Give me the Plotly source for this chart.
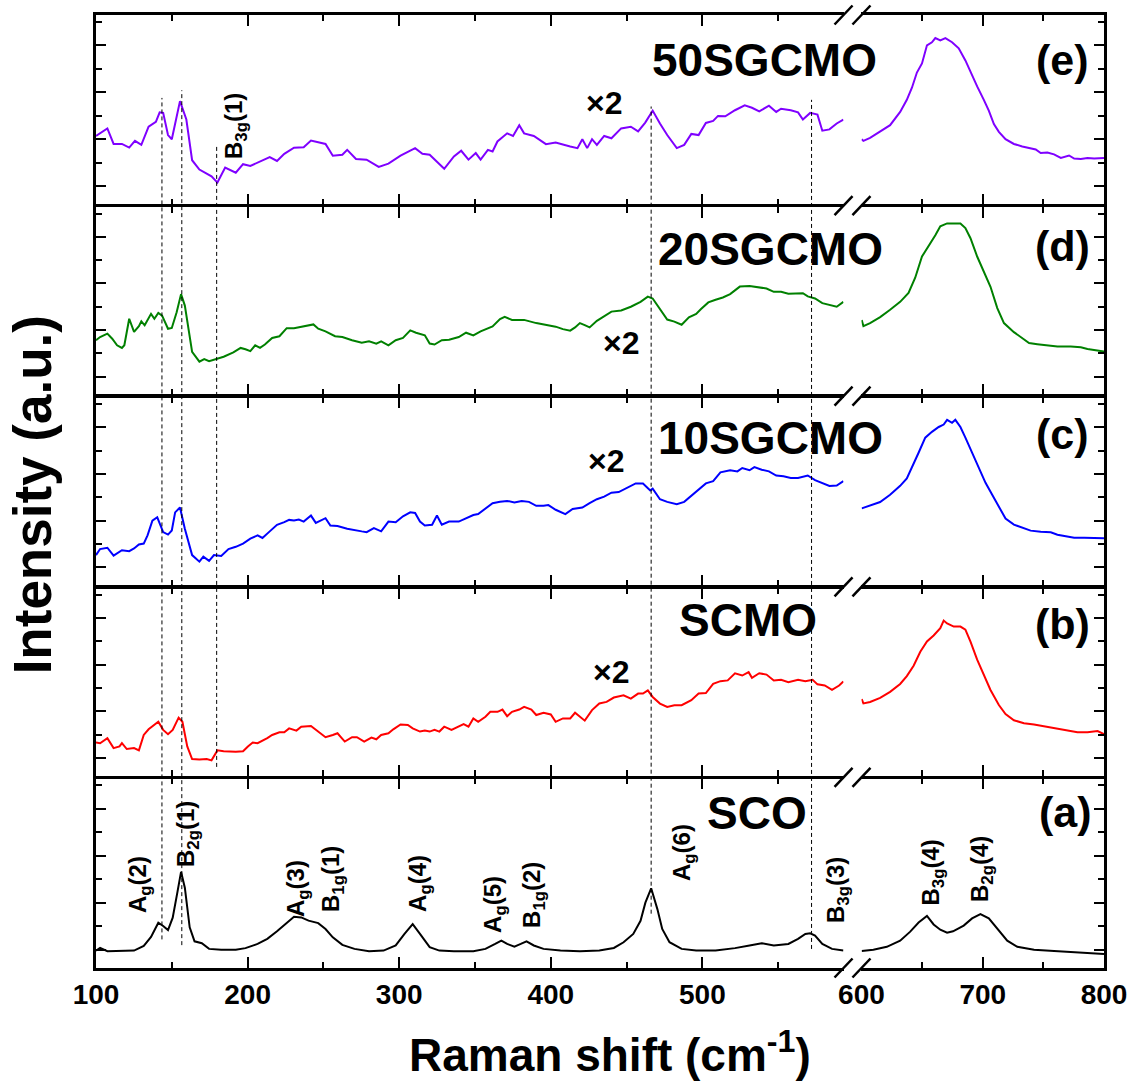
import plotly.graph_objects as go

# ---------------- data (wavenumber cm-1, intensity a.u.; each panel scaled 0-100) ----------------
# 50SGCMO (e) - low-frequency part (x2) and high-frequency part
sgcmo50_low = [(100.0, 36.1), (107.5, 40.1), (111.6, 31.9), (117.1, 31.9), (121.9, 30.0), (125.7, 33.5), (129.9, 31.4),
               (134.7, 41.0), (139.5, 43.6), (142.0, 48.6), (144.3, 48.3), (147.5, 36.6), (150.0, 34.4), (155.4, 54.5),
               (159.6, 44.8), (163.4, 23.3), (168.2, 18.4), (173.0, 16.1), (176.2, 14.8), (180.1, 11.5), (185.2, 19.4),
               (192.2, 16.7), (197.0, 21.2), (201.8, 20.3), (206.6, 22.0), (214.6, 25.0), (219.4, 22.9), (224.2, 26.7),
               (230.6, 29.9), (237.0, 30.2), (241.8, 33.7), (246.6, 32.8), (251.4, 31.9), (256.2, 25.7), (262.5, 26.2),
               (265.7, 28.8), (271.5, 24.0), (278.5, 23.6), (286.5, 19.8), (292.9, 21.5), (300.9, 25.7), (310.5, 29.7),
               (315.3, 26.7), (320.1, 26.2), (323.3, 23.6), (329.7, 18.8), (336.1, 25.3), (340.9, 28.3), (345.7, 23.6),
               (350.5, 27.1), (353.7, 23.6), (358.5, 28.8), (361.6, 27.9), (364.8, 33.2), (371.2, 37.5), (375.1, 36.1),
               (379.2, 41.8), (382.4, 37.5), (388.8, 36.1), (396.8, 31.8), (403.2, 32.6), (408.0, 31.4), (412.8, 30.6),
               (417.6, 29.7), (420.8, 34.4), (424.0, 29.7), (427.2, 34.4), (430.4, 31.4), (435.2, 36.1), (440.0, 34.9),
               (446.4, 40.1), (452.8, 41.0), (457.6, 38.5), (462.3, 43.2), (467.2, 49.5), (472.0, 42.7), (476.8, 36.6),
               (483.1, 29.7), (488.0, 31.4), (492.7, 37.2), (497.5, 36.6), (502.3, 43.0), (507.1, 44.1), (510.3, 46.7),
               (515.1, 46.5), (521.5, 49.7), (527.9, 52.3), (532.7, 51.0), (537.5, 49.1), (543.9, 52.1), (548.7, 48.8),
               (551.9, 50.5), (558.3, 49.7), (563.1, 48.6), (566.3, 44.8), (571.1, 48.3), (575.9, 47.4), (579.1, 38.9),
               (583.8, 39.6), (588.6, 42.7), (593.0, 44.8)]
sgcmo50_high = [(600.2, 34.4), (601.6, 33.5), (607.1, 35.1), (615.4, 38.3), (623.6, 41.8), (631.9, 48.8), (637.4, 55.2),
                (641.6, 61.6), (645.7, 69.6), (649.9, 74.4), (654.0, 84.0), (658.1, 85.6), (660.9, 87.8), (665.0, 86.6),
                (669.2, 87.8), (674.7, 85.6), (680.2, 82.4), (685.7, 76.0), (691.2, 68.0), (695.4, 62.3), (700.9, 55.2),
                (705.0, 49.5), (709.2, 42.4), (713.3, 38.3), (718.8, 34.4), (725.7, 31.9), (732.6, 30.6), (738.2, 29.6),
                (743.7, 29.0), (747.8, 27.1), (753.3, 27.4), (758.8, 26.4), (764.4, 24.5), (771.2, 25.8), (775.4, 24.2),
                (780.9, 23.9), (786.4, 24.5), (791.9, 24.2), (800.0, 24.5)]

# 20SGCMO (d)
sgcmo20_low = [(100.0, 29.1), (102.7, 30.8), (107.5, 32.6), (110.7, 29.9), (113.9, 26.4), (117.1, 25.0), (118.7, 26.4),
               (121.9, 40.5), (125.1, 33.5), (128.3, 36.6), (129.9, 39.1), (132.1, 37.0), (136.3, 43.1), (138.5, 40.5),
               (141.1, 43.6), (143.6, 42.2), (147.5, 35.2), (150.0, 35.6), (153.2, 44.0), (156.1, 53.6), (158.6, 47.5),
               (163.4, 22.9), (168.2, 17.7), (171.4, 19.1), (174.6, 18.0), (178.8, 19.1), (184.2, 20.3), (190.6, 22.6),
               (195.4, 25.0), (198.6, 24.3), (201.8, 23.3), (205.0, 26.4), (208.2, 25.0), (211.4, 26.8), (216.2, 30.3),
               (221.0, 31.2), (225.8, 35.5), (230.6, 35.5), (237.0, 36.6), (243.4, 37.5), (246.6, 35.2), (251.4, 33.8),
               (257.7, 31.2), (262.5, 30.8), (268.9, 29.1), (275.3, 27.8), (280.1, 28.5), (284.9, 27.3), (288.1, 28.5),
               (292.9, 26.4), (297.7, 29.1), (302.5, 30.3), (307.3, 34.3), (311.1, 33.1), (316.9, 31.7), (320.1, 27.3),
               (323.3, 26.8), (328.1, 29.1), (332.9, 29.4), (339.3, 30.8), (344.1, 33.1), (348.9, 31.7), (353.7, 33.8),
               (358.5, 35.5), (361.6, 36.4), (366.5, 40.3), (369.6, 41.5), (374.4, 39.9), (382.4, 39.9), (390.4, 38.2),
               (396.8, 37.3), (403.2, 36.3), (408.0, 35.0), (412.8, 34.2), (416.0, 35.9), (419.2, 38.2), (422.4, 37.1),
               (425.6, 35.9), (430.4, 39.4), (435.2, 41.7), (440.0, 44.3), (446.4, 44.9), (452.8, 46.9), (459.2, 49.5),
               (464.0, 52.3), (467.2, 51.3), (472.0, 45.7), (476.8, 40.1), (481.5, 39.0), (486.3, 37.3), (491.1, 41.3),
               (495.9, 43.1), (499.1, 45.7), (503.9, 49.2), (508.7, 50.6), (513.5, 51.8), (518.3, 53.6), (524.7, 57.6),
               (531.1, 57.9), (537.5, 57.1), (542.3, 56.6), (547.1, 54.8), (551.9, 54.8), (556.7, 53.8), (563.1, 54.1),
               (566.3, 54.1), (569.5, 52.4), (574.3, 51.3), (579.1, 48.8), (583.8, 47.8), (588.6, 46.9), (593.0, 49.5)]
sgcmo20_high = [(600.2, 39.8), (601.6, 36.6), (607.1, 38.2), (615.4, 41.4), (623.6, 45.3), (631.9, 49.5), (638.8, 54.2),
                (644.3, 62.3), (649.9, 73.6), (655.4, 79.1), (660.9, 84.9), (665.0, 89.7), (670.6, 91.2), (676.1, 91.2),
                (681.6, 91.2), (685.7, 88.7), (689.9, 83.3), (695.4, 73.6), (700.9, 65.5), (706.4, 57.5), (712.0, 46.2),
                (717.5, 38.2), (725.7, 33.4), (732.6, 30.2), (738.2, 27.6), (745.0, 27.0), (753.3, 26.3), (761.6, 25.7),
                (772.6, 25.7), (780.9, 25.3), (786.4, 24.4), (794.7, 23.7), (800.0, 23.1)]

# 10SGCMO (c)
sgcmo10_low = [(100.0, 16.2), (102.7, 19.4), (107.5, 20.1), (111.6, 15.9), (117.1, 18.8), (121.9, 18.3), (125.1, 19.7),
               (128.3, 21.8), (131.5, 22.3), (134.0, 26.7), (137.2, 34.5), (140.4, 36.3), (144.3, 28.4), (147.5, 27.1),
               (150.0, 29.3), (152.2, 38.9), (155.4, 41.5), (158.6, 30.2), (163.4, 16.2), (168.2, 12.7), (170.8, 15.4),
               (174.6, 13.1), (177.8, 16.2), (182.6, 15.7), (187.4, 19.4), (192.2, 20.6), (197.0, 22.3), (201.8, 24.9),
               (206.6, 26.7), (209.8, 25.3), (214.6, 28.8), (219.4, 32.3), (224.2, 33.7), (227.4, 34.9), (230.6, 34.6),
               (233.8, 35.1), (237.0, 34.0), (241.8, 37.2), (245.0, 33.3), (248.2, 34.6), (251.4, 35.8), (254.6, 31.9),
               (259.3, 31.6), (265.7, 30.2), (270.5, 29.3), (275.3, 28.8), (278.5, 28.4), (283.3, 30.5), (288.1, 28.8),
               (292.9, 34.0), (297.7, 33.7), (302.5, 36.8), (307.3, 38.9), (310.5, 38.6), (313.7, 34.0), (316.9, 31.9),
               (321.7, 32.3), (324.9, 37.2), (328.1, 32.3), (332.9, 34.0), (339.3, 34.0), (344.1, 35.8), (348.9, 37.5),
               (352.1, 38.0), (356.9, 40.7), (361.6, 43.8), (366.5, 44.5), (371.2, 45.0), (376.0, 44.2), (380.8, 45.0),
               (385.6, 44.5), (390.4, 42.4), (395.2, 42.4), (398.4, 42.8), (403.2, 40.3), (409.6, 38.0), (414.4, 40.7),
               (420.8, 41.5), (425.6, 43.8), (430.4, 45.9), (435.2, 47.3), (440.0, 49.4), (444.8, 49.7), (451.2, 52.5),
               (456.0, 54.3), (460.8, 54.3), (465.6, 50.6), (467.2, 51.5), (472.0, 45.9), (476.8, 44.5), (483.1, 43.3),
               (488.0, 44.5), (492.7, 47.6), (497.5, 51.1), (502.3, 54.3), (507.1, 55.5), (511.9, 60.2), (518.3, 61.3),
               (523.1, 60.7), (526.3, 62.5), (531.1, 61.3), (534.3, 63.0), (539.1, 61.6), (543.9, 60.7), (548.7, 58.5),
               (553.5, 58.1), (558.3, 57.2), (563.1, 57.2), (569.5, 58.5), (574.3, 56.0), (579.1, 54.6), (583.8, 52.9),
               (588.6, 53.2), (593.0, 55.5)]
sgcmo10_high = [(600.2, 41.0), (607.1, 42.5), (615.4, 44.4), (623.6, 48.3), (631.9, 53.0), (637.4, 56.9), (641.6, 62.6),
                (647.1, 70.6), (652.6, 78.6), (658.1, 81.7), (663.7, 84.3), (667.8, 85.6), (670.6, 88.1), (674.7, 86.5),
                (677.4, 88.1), (681.6, 84.3), (685.7, 78.6), (691.2, 70.6), (696.8, 62.6), (702.3, 54.6), (707.8, 48.3),
                (713.3, 41.8), (718.8, 35.6), (725.7, 32.4), (732.6, 30.8), (739.5, 29.2), (747.8, 28.6), (756.1, 28.3),
                (761.6, 27.0), (769.9, 26.0), (775.4, 25.4), (783.7, 25.4), (792.0, 25.1), (800.0, 25.1)]

# SCMO (b)
scmo_low = [(100.0, 17.9), (102.7, 17.5), (107.5, 20.2), (111.6, 14.9), (115.5, 15.8), (117.1, 17.5), (120.3, 14.4),
            (125.1, 14.9), (128.3, 13.7), (131.5, 21.9), (134.7, 24.9), (137.9, 26.7), (141.1, 28.9), (144.3, 24.6),
            (147.5, 22.3), (150.6, 24.6), (154.5, 31.1), (157.0, 28.9), (160.2, 15.8), (163.4, 9.1), (168.2, 8.8),
            (173.0, 9.1), (176.2, 8.4), (180.1, 13.7), (184.2, 13.2), (192.2, 13.0), (197.0, 13.2), (200.2, 15.8),
            (203.4, 17.9), (206.6, 17.5), (209.8, 18.8), (213.0, 20.2), (216.2, 21.9), (221.0, 23.3), (224.2, 23.3),
            (227.4, 25.4), (232.2, 24.2), (235.4, 26.3), (241.8, 26.7), (246.6, 23.7), (251.4, 20.7), (256.2, 21.9),
            (259.3, 22.8), (264.1, 18.4), (268.9, 20.7), (272.1, 20.7), (276.9, 18.4), (281.7, 20.5), (284.9, 19.6),
            (288.1, 21.9), (292.9, 22.8), (296.1, 24.9), (300.9, 27.5), (305.7, 27.2), (308.9, 25.4), (313.7, 23.7),
            (316.9, 24.2), (320.1, 23.7), (323.3, 24.6), (326.5, 23.7), (329.7, 26.3), (334.5, 24.6), (339.3, 26.3),
            (342.5, 27.7), (345.7, 26.3), (348.9, 30.7), (352.1, 28.9), (356.9, 31.6), (360.1, 34.2), (364.9, 34.2),
            (368.1, 35.4), (371.2, 31.9), (374.4, 34.2), (379.2, 35.4), (382.4, 36.8), (387.2, 35.4), (390.4, 32.5),
            (395.2, 33.7), (400.0, 32.8), (403.2, 28.9), (408.0, 30.7), (412.8, 30.7), (416.0, 33.7), (422.4, 29.5),
            (427.2, 35.1), (432.0, 38.6), (436.8, 39.5), (441.6, 41.8), (448.0, 43.0), (452.8, 41.2), (457.6, 43.9),
            (460.8, 43.9), (464.0, 45.6), (467.2, 42.1), (472.0, 38.6), (476.8, 36.8), (481.5, 37.7), (486.3, 37.7),
            (492.7, 40.4), (497.5, 43.9), (502.3, 44.2), (507.1, 49.1), (511.9, 50.5), (516.7, 50.9), (521.5, 54.7),
            (526.3, 53.5), (530.5, 55.3), (532.7, 52.3), (537.5, 54.7), (542.3, 54.0), (547.1, 50.9), (551.9, 51.2),
            (556.7, 50.0), (563.1, 51.2), (567.9, 50.4), (572.7, 51.2), (575.9, 48.8), (580.7, 48.2), (585.5, 45.9),
            (590.2, 48.2), (593.0, 50.4)]
scmo_high = [(600.2, 41.0), (601.6, 38.7), (607.1, 39.4), (615.4, 41.6), (623.6, 44.8), (631.9, 49.0), (637.4, 53.2),
             (643.0, 58.7), (648.5, 66.1), (654.0, 71.6), (659.5, 74.8), (665.0, 78.7), (667.8, 82.7), (670.6, 81.2),
             (676.1, 79.5), (681.6, 79.5), (685.7, 77.9), (689.9, 71.5), (695.4, 61.9), (700.9, 53.9), (706.4, 45.8),
             (713.3, 37.8), (718.8, 33.0), (725.7, 29.7), (734.0, 28.1), (742.3, 27.5), (750.6, 26.5), (758.8, 25.6),
             (769.9, 24.3), (778.1, 23.3), (786.4, 23.3), (794.7, 24.0), (800.0, 22.3)]

# SCO (a)
sco_low = [(100.0, 9.2), (102.7, 10.6), (107.5, 8.9), (115.5, 8.9), (125.1, 9.2), (131.5, 11.7), (136.3, 16.4),
           (141.1, 23.9), (144.3, 22.2), (147.5, 20.0), (150.6, 26.6), (153.8, 40.5), (156.1, 50.8), (158.6, 42.4),
           (161.8, 21.5), (165.0, 14.1), (169.8, 13.1), (174.6, 10.1), (182.6, 9.6), (192.2, 9.6), (198.6, 10.5),
           (206.6, 12.7), (213.0, 15.4), (219.4, 19.4), (225.8, 23.6), (230.6, 27.1), (235.4, 26.7), (240.2, 25.0),
           (246.6, 23.7), (251.4, 20.6), (256.2, 16.2), (262.5, 12.2), (270.5, 10.1), (280.1, 8.9), (289.7, 9.2),
           (297.7, 11.9), (303.5, 18.0), (308.9, 23.2), (313.7, 18.0), (320.1, 11.0), (326.5, 9.2), (336.1, 8.9),
           (348.9, 8.9), (356.9, 10.1), (363.3, 12.7), (367.4, 14.5), (371.2, 12.7), (376.0, 11.3), (380.2, 12.7),
           (384.0, 14.1), (388.8, 11.9), (395.2, 10.1), (406.4, 9.2), (419.2, 8.9), (432.0, 9.2), (441.6, 10.6),
           (448.0, 13.6), (454.4, 18.0), (459.2, 24.9), (462.4, 34.5), (466.2, 42.1), (470.3, 31.1), (473.5, 20.6),
           (478.3, 13.6), (486.3, 10.1), (495.9, 9.2), (508.7, 9.2), (521.5, 10.5), (531.1, 11.9), (539.1, 13.1),
           (547.1, 11.9), (556.7, 12.7), (563.1, 15.4), (567.9, 18.0), (571.1, 18.3), (574.3, 17.1), (579.1, 12.7),
           (585.5, 10.1), (593.0, 9.2)]
sco_high = [(600.2, 9.0), (609.8, 9.6), (620.9, 11.2), (631.9, 14.4), (640.2, 19.2), (647.1, 24.0), (654.0, 27.5),
            (659.5, 23.0), (665.0, 20.2), (670.6, 18.6), (675.5, 19.4), (684.3, 22.4), (691.2, 26.2), (698.1, 28.5),
            (705.0, 26.2), (712.0, 20.8), (720.2, 14.4), (728.5, 11.2), (742.3, 9.6), (758.8, 9.0), (775.4, 8.3),
            (800.0, 7.4)]

sample_names = ["50SGCMO", "20SGCMO", "10SGCMO", "SCMO", "SCO"]
panel_tags = ["(e)", "(d)", "(c)", "(b)", "(a)"]
line_colors = ["#7F00FF", "#008000", "#0000FF", "#FF0000", "#000000"]
low_series = [sgcmo50_low, sgcmo20_low, sgcmo10_low, scmo_low, sco_low]
high_series = [sgcmo50_high, sgcmo20_high, sgcmo10_high, scmo_high, sco_high]

# dashed guide lines: (wavenumber, top paper y, bottom paper y)
mode_lines = [(143.5, 0.913, 0.030), (156.6, 0.921, 0.024), (179.6, 0.862, 0.211),
              (466.2, 0.904, 0.057), (572.0, 0.911, 0.020)]

# SCO mode labels: (text, paper x, paper y)
mode_labels = [("A<sub>g</sub>(2)", 0.0437, 0.0871), ("B<sub>2g</sub>(1)", 0.0903, 0.1406),
               ("A<sub>g</sub>(3)", 0.1994, 0.0839), ("B<sub>1g</sub>(1)", 0.2351, 0.0934),
               ("A<sub>g</sub>(4)", 0.3214, 0.0892), ("A<sub>g</sub>(5)", 0.3958, 0.0672),
               ("B<sub>1g</sub>(2)", 0.4335, 0.0766), ("A<sub>g</sub>(6)", 0.5829, 0.1212),
               ("B<sub>3g</sub>(3)", 0.7351, 0.0818), ("B<sub>3g</sub>(4)", 0.8294, 0.1002),
               ("B<sub>2g</sub>(4)", 0.8790, 0.1039), ("B<sub>3g</sub>(1)", 0.1379, 0.8835)]

# ---------------- figure ----------------
FONT = "Liberation Sans, Arial, sans-serif"
LEFT_DOM = [0.0, 0.7416]
RIGHT_DOM = [0.7594, 1.0]
LEFT_RANGE = [100, 593.1]
RIGHT_RANGE = [600, 800]
LW = 2.5
HALF = (LW / 2) / 953.0   # half line width in paper units, so shared panel edges coincide

fig = go.Figure()
layout = dict(
    width=1140, height=1084,
    margin=dict(l=96, r=36, t=15, b=116),
    paper_bgcolor="white", plot_bgcolor="white",
    showlegend=False,
    font=dict(family=FONT, color="black"),
)

axis_common = dict(showline=True, linewidth=LW, linecolor="black", showgrid=False, zeroline=False,
                   ticks="inside", tickwidth=2, tickcolor="black")

for r in range(5):
    il = 2 * r + 1
    ir = 2 * r + 2
    xl = "x" if il == 1 else f"x{il}"
    xr = f"x{ir}"
    yl = "y" if il == 1 else f"y{il}"
    yr = f"y{ir}"
    lo = 0.8 - 0.2 * r
    hi = 1.0 - 0.2 * r
    ydom = [lo + (HALF if r < 4 else 0.0), hi - (HALF if r > 0 else 0.0)]
    bottom = (r == 4)

    lx, ly = zip(*low_series[r])
    hx, hy = zip(*high_series[r])
    fig.add_trace(go.Scatter(x=lx, y=ly, mode="lines", line=dict(color=line_colors[r], width=2),
                             xaxis=xl, yaxis=yl, hoverinfo="skip"))
    fig.add_trace(go.Scatter(x=hx, y=hy, mode="lines", line=dict(color=line_colors[r], width=2),
                             xaxis=xr, yaxis=yr, hoverinfo="skip"))

    xkw = dict(axis_common, mirror="ticks", ticklen=11, tick0=0, dtick=100,
               minor=dict(ticks="inside", ticklen=6, tickwidth=2, tick0=0, dtick=50, tickcolor="black"),
               showticklabels=bottom,
               tickfont=dict(family=FONT, size=28, color="black", weight="bold"))
    ykw = dict(axis_common, range=[0, 100], domain=ydom, ticklen=10, tick0=9.7, dtick=24.78,
               minor=dict(ticks="inside", ticklen=6, tickwidth=2, tick0=9.7, dtick=12.39, tickcolor="black"),
               showticklabels=False, mirror=False)

    layout["xaxis" if il == 1 else f"xaxis{il}"] = dict(xkw, domain=LEFT_DOM, range=LEFT_RANGE, anchor=yl)
    layout[f"xaxis{ir}"] = dict(xkw, domain=RIGHT_DOM, range=RIGHT_RANGE, anchor=yr)
    layout["yaxis" if il == 1 else f"yaxis{il}"] = dict(ykw, anchor=xl, side="left")
    layout[f"yaxis{ir}"] = dict(ykw, anchor=xr, side="right")

fig.update_layout(**layout)

shapes = []
for wn, ytop, ybot in mode_lines:
    shapes.append(dict(type="line", xref="x", yref="paper", x0=wn, x1=wn, y0=ybot, y1=ytop,
                       line=dict(color="black", width=1, dash="4px,3px")))
# axis break marks
for yb in [0.0, 0.2, 0.4, 0.6, 0.8, 1.0]:
    for xc in [LEFT_DOM[1], RIGHT_DOM[0]]:
        shapes.append(dict(type="line", xref="paper", yref="paper", xsizemode="pixel", ysizemode="pixel",
                           xanchor=xc, yanchor=yb, x0=-9, x1=9, y0=-9.5, y1=9.5,
                           line=dict(color="black", width=2.5)))
fig.update_layout(shapes=shapes)

ann = []
name_pos = [(0.6627, 0.9528), (0.6696, 0.7545), (0.6696, 0.5561), (0.6468, 0.3652), (0.6558, 0.1626)]
tag_pos = [(0.9593, 0.9528), (0.9593, 0.7576), (0.9593, 0.5603), (0.9593, 0.3610), (0.9623, 0.1637)]
x2_pos = [(0.504, 0.9077), (0.5208, 0.6558), (0.506, 0.532), (0.5109, 0.3106)]
for i in range(5):
    ann.append(dict(text=sample_names[i], x=name_pos[i][0], y=name_pos[i][1], xref="paper", yref="paper",
                    showarrow=False, xanchor="center", yanchor="middle",
                    font=dict(family=FONT, size=46, color="black", weight="bold")))
    ann.append(dict(text=panel_tags[i], x=tag_pos[i][0], y=tag_pos[i][1], xref="paper", yref="paper",
                    showarrow=False, xanchor="center", yanchor="middle",
                    font=dict(family=FONT, size=43, color="black", weight="bold")))
for (px, py) in x2_pos:
    ann.append(dict(text="×2", x=px, y=py, xref="paper", yref="paper", showarrow=False,
                    xanchor="center", yanchor="middle",
                    font=dict(family=FONT, size=32, color="black", weight="bold")))
for txt, px, py in mode_labels:
    ann.append(dict(text=txt, x=px, y=py, xref="paper", yref="paper", showarrow=False, textangle=-90,
                    xanchor="center", yanchor="middle",
                    font=dict(family=FONT, size=24, color="black", weight="bold")))
# axis titles
ann.append(dict(text="Raman shift (cm<sup>-1</sup>)", x=0.51, y=-0.088, xref="paper", yref="paper",
                showarrow=False, xanchor="center", yanchor="middle",
                font=dict(family=FONT, size=46, color="black", weight="bold")))
ann.append(dict(text="Intensity (a.u.)", x=-0.0635, y=0.497, xref="paper", yref="paper", showarrow=False,
                textangle=-90, xanchor="center", yanchor="middle",
                font=dict(family=FONT, size=53, color="black", weight="bold")))
fig.update_layout(annotations=ann)

fig.write_html("out.html")
